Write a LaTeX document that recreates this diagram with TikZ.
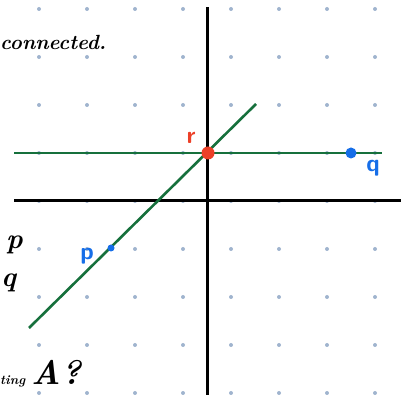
\documentclass[tikz,border=0pt]{standalone}
\usetikzlibrary{positioning}
\definecolor{gridblue}{RGB}{160,180,206}
\definecolor{linegreen}{RGB}{22,112,60}
\definecolor{ptred}{RGB}{236,64,40}
\definecolor{ptblue}{RGB}{22,110,232}
\tikzset{
  axis/.style={line width=3pt, black},
  gline/.style={line width=2.6pt, linegreen},
  hand/.style={font=\fontsize{20.5}{22}\selectfont\bfseries\itshape, inner sep=0pt},
  plabel/.style={font=\fontsize{24}{24}\selectfont\sffamily\bfseries, text=ptblue, inner sep=0pt}
}
\begin{document}
\begin{tikzpicture}[x=1pt,y=1pt]
\useasboundingbox (0,0) rectangle (414,395);
% dot grid
\foreach \i in {0,...,7}
  \foreach \j in {0,...,8}
    \fill[gridblue] (39+48*\i,2+48*\j) circle (2);
% axes
\coordinate (ytop) at (207,388);
\coordinate (ybot) at (207,0);
\coordinate (xl) at (14,194);
\coordinate (xr) at (401,194);
\draw[axis] (ybot) -- (ytop);
\draw[axis] (xl) -- (xr);
% the two lines
\coordinate (hl) at (14,242);
\coordinate (hr) at (382,242);
\coordinate (dl) at (29,67);
\coordinate (dr) at (256,291);
\draw[gline] (hl) -- (hr);
\draw[gline] (dl) -- (dr);
% points
\coordinate (r) at (208,242);
\coordinate (q) at (351,242);
\coordinate (p) at (111,147);
\fill[ptred] (r) circle (6.5);
\fill[ptblue] (q) circle (5.5);
\fill[ptblue] (p) circle (3.5);
\node[plabel, text=ptred] (rlab) at (191,257) {r};
\node[plabel] (qlab) at (373,227) {q};
\node[plabel] (plab) at (87,139) {p};
% text at the left edge
\node[hand, anchor=base west] (t1) at (0,345) {connected.};
\node[hand, font=\fontsize{28}{28}\selectfont\bfseries\itshape, anchor=base west] (t2) at (6,146) {p};
\node[hand, font=\fontsize{28}{28}\selectfont\bfseries\itshape, anchor=base west] (t3) at (1,108) {q};
\node[hand, font=\fontsize{13}{14}\selectfont\bfseries\itshape, anchor=base west] (t4) at (0,10) {ting};
\node[hand, font=\fontsize{34}{34}\selectfont\bfseries\itshape, right=6pt of t4.base east, anchor=base west] (t5) {A?};
\end{tikzpicture}
\end{document}
